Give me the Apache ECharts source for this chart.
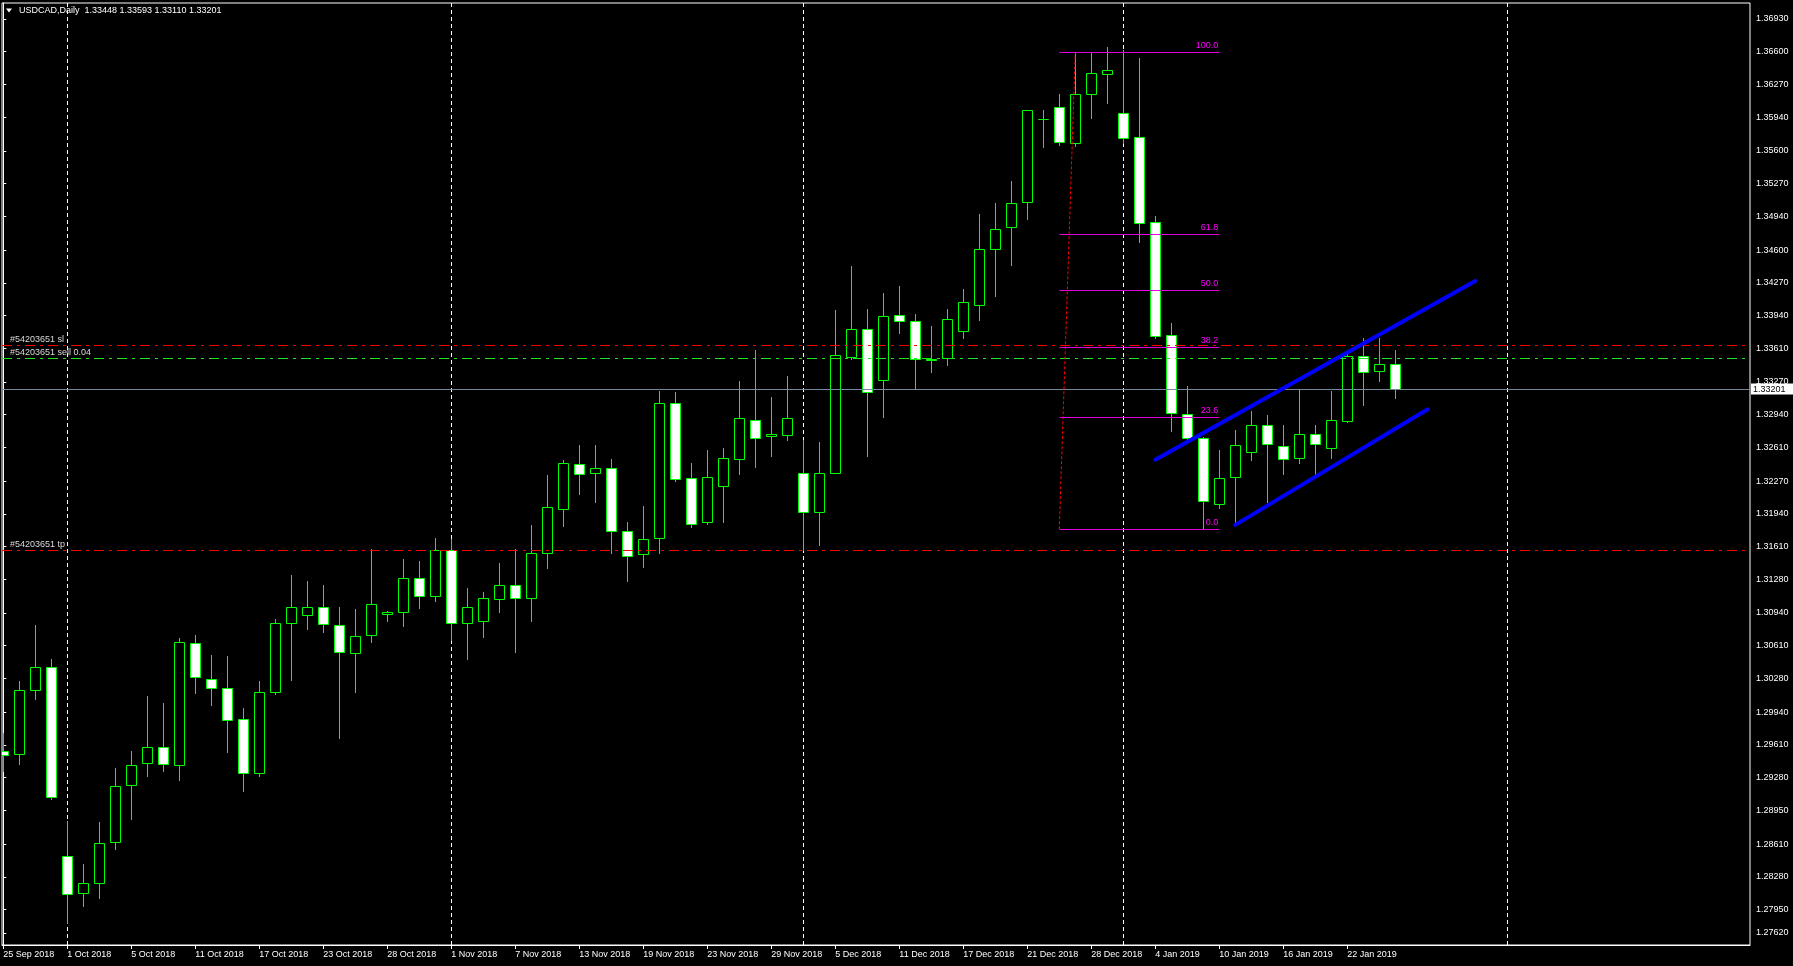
<!DOCTYPE html>
<html><head><meta charset="utf-8">
<script src="https://cdn.jsdelivr.net/npm/echarts@6/dist/echarts.min.js"></script>
<style>html,body{margin:0;padding:0;background:#000;}#c{width:1793px;height:966px;}</style>
</head><body><div id="c"></div>
<script>
const dates = ['25 Sep 2018','26 Sep 2018','27 Sep 2018','28 Sep 2018','1 Oct 2018','2 Oct 2018','3 Oct 2018','4 Oct 2018','5 Oct 2018','8 Oct 2018',
'9 Oct 2018','10 Oct 2018','11 Oct 2018','12 Oct 2018','15 Oct 2018','16 Oct 2018','17 Oct 2018','18 Oct 2018','19 Oct 2018','22 Oct 2018',
'23 Oct 2018','24 Oct 2018','25 Oct 2018','26 Oct 2018','28 Oct 2018','29 Oct 2018','30 Oct 2018','31 Oct 2018','1 Nov 2018','2 Nov 2018',
'5 Nov 2018','6 Nov 2018','7 Nov 2018','8 Nov 2018','9 Nov 2018','12 Nov 2018','13 Nov 2018','14 Nov 2018','15 Nov 2018','16 Nov 2018',
'19 Nov 2018','20 Nov 2018','21 Nov 2018','22 Nov 2018','23 Nov 2018','26 Nov 2018','27 Nov 2018','28 Nov 2018','29 Nov 2018','30 Nov 2018',
'3 Dec 2018','4 Dec 2018','5 Dec 2018','6 Dec 2018','7 Dec 2018','10 Dec 2018','11 Dec 2018','12 Dec 2018','13 Dec 2018','14 Dec 2018',
'17 Dec 2018','18 Dec 2018','19 Dec 2018','20 Dec 2018','21 Dec 2018','24 Dec 2018','26 Dec 2018','27 Dec 2018','28 Dec 2018','31 Dec 2018',
'2 Jan 2019','3 Jan 2019','4 Jan 2019','7 Jan 2019','8 Jan 2019','9 Jan 2019','10 Jan 2019','11 Jan 2019','14 Jan 2019','15 Jan 2019',
'16 Jan 2019','17 Jan 2019','18 Jan 2019','21 Jan 2019','22 Jan 2019','23 Jan 2019','24 Jan 2019','25 Jan 2019'];

const open = [
1.29546,1.29515,1.30161,1.30393,1.28487,1.28114,1.28214,1.28628,1.29203,1.29425,
1.29586,1.29404,1.30635,1.30272,1.30181,1.29868,1.29324,1.30140,1.30836,1.30917,
1.30998,1.30816,1.30534,1.30715,1.30927,1.30947,1.31290,1.31109,1.31572,1.30836,
1.30856,1.31078,1.31219,1.31088,1.31542,1.31986,1.32440,1.32349,1.32399,1.31764,
1.31532,1.31693,1.33055,1.32298,1.31855,1.32218,1.32490,1.32883,1.32722,1.32732,
1.32349,1.31956,1.32349,1.33525,1.33801,1.33287,1.33942,1.33882,1.33498,1.33509,
1.33781,1.34043,1.34608,1.34829,1.35082,1.35925,1.36040,1.35677,1.36171,1.36372,
1.35979,1.35737,1.34880,1.33740,1.32944,1.32702,1.32042,1.32315,1.32561,1.32833,
1.32621,1.32500,1.32742,1.32601,1.32873,1.33528,1.33377,1.33448];

const high = [
1.29727,1.30254,1.30819,1.30476,1.28843,1.28409,1.28833,1.29377,1.29549,1.30103,
1.30033,1.30688,1.30718,1.30517,1.30507,1.29979,1.30254,1.30877,1.31323,1.31263,
1.31222,1.30998,1.30980,1.31586,1.30960,1.31485,1.31465,1.31696,1.31686,1.31192,
1.31152,1.31444,1.31586,1.31828,1.32332,1.32483,1.32634,1.32634,1.32493,1.31858,
1.32019,1.33179,1.33169,1.32453,1.32584,1.32604,1.33280,1.33592,1.33118,1.33330,
1.32685,1.32662,1.33996,1.34439,1.34006,1.34167,1.34238,1.33955,1.33834,1.34006,
1.34207,1.34964,1.35075,1.35296,1.36015,1.36012,1.36174,1.36600,1.36594,1.36648,
1.36617,1.36537,1.34944,1.33865,1.33229,1.32718,1.32584,1.32786,1.32977,1.32937,
1.32836,1.33189,1.32836,1.33179,1.33549,1.33710,1.33710,1.33593];

const low = [
1.29350,1.29420,1.30076,1.29068,1.27817,1.27989,1.28069,1.28563,1.28866,1.29299,
1.29350,1.29259,1.30136,1.30015,1.29542,1.29148,1.29299,1.30125,1.30265,1.30782,
1.30751,1.29683,1.30147,1.30651,1.30862,1.30812,1.30994,1.31064,1.30668,1.30479,
1.30701,1.30953,1.30550,1.30862,1.31397,1.31820,1.32143,1.32062,1.31548,1.31263,
1.31407,1.31548,1.32274,1.31810,1.31835,1.31861,1.32345,1.32415,1.32526,1.32688,
1.31575,1.31629,1.32516,1.33505,1.32526,1.32920,1.33767,1.33206,1.33373,1.33441,
1.33716,1.33895,1.34137,1.34452,1.34916,1.35642,1.35662,1.35652,1.35935,1.36086,
1.35683,1.34684,1.33716,1.32778,1.32685,1.31785,1.32002,1.31845,1.32483,1.32062,
1.32345,1.32456,1.32332,1.32506,1.32865,1.33041,1.33283,1.33110];

const close = [
1.29505,1.30161,1.30393,1.29082,1.28104,1.28214,1.28618,1.29193,1.29404,1.29586,
1.29414,1.30645,1.30292,1.30181,1.29858,1.29324,1.30140,1.30836,1.30998,1.30998,
1.30826,1.30544,1.30705,1.31028,1.30947,1.31290,1.31109,1.31572,1.30836,1.30998,
1.31088,1.31219,1.31088,1.31542,1.32006,1.32450,1.32339,1.32399,1.31764,1.31512,
1.31683,1.33055,1.32288,1.31835,1.32309,1.32500,1.32903,1.32702,1.32742,1.32903,
1.31956,1.32349,1.33539,1.33801,1.33166,1.33932,1.33882,1.33498,1.33488,1.33902,
1.34073,1.34608,1.34809,1.35072,1.36009,1.35919,1.35687,1.36171,1.36382,1.36413,
1.35733,1.34870,1.33730,1.32954,1.32702,1.32066,1.32298,1.32631,1.32833,1.32641,
1.32490,1.32742,1.32641,1.32883,1.33528,1.33367,1.33448,1.33201];

const xTickBars = [0,4,8,12,16,20,24,28,32,36,40,44,48,52,56,60,64,68,72,76,80,84];
const yTickLabels = ['1.36930','1.36600','1.36270','1.35940','1.35600','1.35270','1.34940','1.34600','1.34270','1.33940',
'1.33610','1.33270','1.32940','1.32610','1.32270','1.31940','1.31610','1.31280','1.30940','1.30610',
'1.30280','1.29940','1.29610','1.29280','1.28950','1.28610','1.28280','1.27950','1.27620'];
const monthSeparatorBars = [4, 28, 50, 70, 94];

const orderLabels = ['#54203651 sl', '#54203651 sell 0.04', '#54203651 tp'];
const orderPrices = [1.33640, 1.33508, 1.31572];
const orderColors = ['#ff0000', '#1ee61e', '#ff0000'];
const bidPrice = 1.33201;

const fibLevels = [0, 23.6, 38.2, 50, 61.8, 100];
const fibLabels = ['0.0', '23.6', '38.2', '50.0', '61.8', '100.0'];
const fibLow = 1.31785, fibHigh = 1.36600;
const fibLowBar = 66, fibHighBar = 67, fibEndBar = 76;

const trendUpper = [[72, 1.32486], [92, 1.34288]];
const trendLower = [[77, 1.31829], [89, 1.32993]];

const FONT = 'Liberation Sans';
const GREEN = '#00ff00';
const X_MIN = -0.08125, X_MAX = 109.169;
const Y_MIN = 1.275922, Y_MAX = 1.370913;

const yTickPos = yTickLabels.map(parseFloat);
// MT4 pins its lowest price label just inside the bottom edge of the chart
yTickPos[yTickPos.length - 1] = Y_MIN + 12 * (Y_MAX - Y_MIN) / 942;
function yLabelFor(v) {
  let best = 0, bd = Infinity;
  yTickPos.forEach((p, k) => { const d = Math.abs(p - v); if (d < bd) { bd = d; best = k; } });
  return yTickLabels[best];
}

const chart = echarts.init(document.getElementById('c'), null, {renderer: 'canvas', width: 1793, height: 966});

function txt(x, y, text, color, align, vAlign) {
  return {type: 'text', x: x, y: y, silent: true,
    style: {text: text, fill: color, fontSize: 9, fontFamily: FONT, align: align || 'left', verticalAlign: vAlign || 'middle'}};
}

const candleData = dates.map((d, i) => [i, open[i], close[i], low[i], high[i]]);

const option = {
  backgroundColor: '#000',
  animation: false,
  grid: {left: 2, top: 3, width: 1748, height: 942, show: true, borderColor: '#ffffff', borderWidth: 1,
         backgroundColor: '#000', containLabel: false, outerBoundsMode: 'none'},
  xAxis: {
    type: 'value', min: X_MIN, max: X_MAX,
    axisLine: {show: true, lineStyle: {color: '#ffffff', width: 1}},
    splitLine: {show: false},
    axisTick: {show: true, customValues: xTickBars, length: 4, lineStyle: {color: '#ffffff'}},
    axisLabel: {show: true, customValues: xTickBars, formatter: v => dates[Math.round(v)] || '',
      align: 'left', color: '#ffffff', fontFamily: FONT, fontSize: 9, margin: 5}
  },
  yAxis: {
    type: 'value', position: 'right', min: Y_MIN, max: Y_MAX, scale: true,
    axisLine: {show: true, lineStyle: {color: '#ffffff', width: 1}},
    splitLine: {show: false},
    axisTick: {show: true, customValues: yTickPos, length: 3, lineStyle: {color: '#ffffff'}},
    axisLabel: {show: true, customValues: yTickPos, formatter: v => yLabelFor(v),
      color: '#ffffff', fontFamily: FONT, fontSize: 9, margin: 6, align: 'left'}
  },
  series: [
    { // monthly period separators
      type: 'custom', z: 1, silent: true,
      data: monthSeparatorBars.map(b => [b, Y_MIN]),
      renderItem: function (params, api) {
        const cs = params.coordSys;
        const x = Math.floor(api.coord([api.value(0), Y_MIN])[0]) + 0.5;
        return {type: 'line', shape: {x1: x, y1: cs.y, x2: x, y2: cs.y + cs.height},
          style: {stroke: '#ffffff', lineWidth: 1, lineDash: [4, 3]}};
      }
    },
    { // candles
      type: 'custom', z: 2, silent: true, clip: true,
      data: candleData,
      encode: {x: 0, y: [1, 2, 3, 4]},
      renderItem: function (params, api) {
        const i = api.value(0);
        const o = api.coord([i, api.value(1)]), c = api.coord([i, api.value(2)]);
        const l = api.coord([i, api.value(3)]), h = api.coord([i, api.value(4)]);
        const x = Math.floor(o[0]) + 0.5;
        const top = Math.round(Math.min(o[1], c[1])) + 0.5;
        const bot = Math.round(Math.max(o[1], c[1])) + 0.5;
        const bull = api.value(2) > api.value(1);
        return {type: 'group', children: [
          {type: 'line', shape: {x1: x, y1: Math.round(h[1]), x2: x, y2: Math.round(l[1]) + 1},
            style: {stroke: GREEN, lineWidth: 1}},
          {type: 'rect', shape: {x: x - 5, y: top, width: 10, height: Math.max(bot - top, 0)},
            style: {fill: bull ? '#000000' : '#ffffff', stroke: GREEN, lineWidth: 1}}
        ]};
      }
    },
    { // order lines (sl / sell / tp)
      type: 'custom', z: 3, silent: true,
      data: orderPrices.map(p => [0, p]),
      renderItem: function (params, api) {
        const cs = params.coordSys;
        const k = params.dataIndex;
        const y = Math.round(api.coord([0, api.value(1)])[1]) + 0.5;
        return {type: 'group', children: [
          {type: 'line', shape: {x1: cs.x, y1: y, x2: cs.x + cs.width, y2: y},
            style: {stroke: orderColors[k], lineWidth: 1, lineDash: [10, 5, 3, 5]}},
          txt(cs.x + 8, y - 5.5, orderLabels[k], '#d8d8d8')
        ]};
      }
    },
    { // bid line and price box
      type: 'custom', z: 3, silent: true, clip: false,
      data: [[0, bidPrice]],
      renderItem: function (params, api) {
        const cs = params.coordSys;
        const y = Math.round(api.coord([0, api.value(1)])[1]) + 0.5;
        return {type: 'group', children: [
          {type: 'line', shape: {x1: cs.x, y1: y, x2: cs.x + cs.width, y2: y},
            style: {stroke: '#778899', lineWidth: 1}},
          {type: 'rect', shape: {x: cs.x + cs.width + 1, y: y - 6, width: 43, height: 11},
            style: {fill: '#ffffff'}},
          txt(cs.x + cs.width + 3, y, api.value(1).toFixed(5), '#000000')
        ]};
      }
    },
    { // Fibonacci retracement
      type: 'custom', z: 4, silent: true,
      data: fibLevels.map(r => [fibLowBar, fibLow + (fibHigh - fibLow) * r / 100]),
      renderItem: function (params, api) {
        const k = params.dataIndex;
        const p1 = api.coord([fibLowBar, api.value(1)]);
        const p2 = api.coord([fibEndBar, api.value(1)]);
        const y = Math.round(p1[1]) + 0.5;
        const children = [
          {type: 'line', shape: {x1: p1[0], y1: y, x2: p2[0], y2: y},
            style: {stroke: '#dd00dd', lineWidth: 1}},
          txt(p2[0] - 1, y - 2, fibLabels[k], '#ff00ff', 'right', 'bottom')
        ];
        if (k === 0) {
          const a = api.coord([fibLowBar, fibLow]), b = api.coord([fibHighBar, fibHigh]);
          children.unshift({type: 'line', shape: {x1: a[0], y1: a[1], x2: b[0], y2: b[1]},
            style: {stroke: '#ff0000', lineWidth: 1, lineDash: [3, 2]}});
        }
        return {type: 'group', children: children};
      }
    },
    { // trend channel
      type: 'custom', z: 5, silent: true,
      data: [trendUpper, trendLower].map(t => [t[0][0], t[0][1], t[1][0], t[1][1]]),
      renderItem: function (params, api) {
        const a = api.coord([api.value(0), api.value(1)]);
        const b = api.coord([api.value(2), api.value(3)]);
        return {type: 'line', shape: {x1: a[0], y1: a[1], x2: b[0], y2: b[1]},
          style: {stroke: '#0000ff', lineWidth: 4, lineCap: 'round'}};
      }
    }
  ],
  graphic: [
    {type: 'polygon', shape: {points: [[6, 8.5], [12, 8.5], [9, 12.5]]}, style: {fill: '#ffffff'}, silent: true},
    {type: 'text', left: 19, top: 6, silent: true,
      style: {text: 'USDCAD,Daily  ' + [open[87], high[87], low[87], close[87]].map(v => v.toFixed(5)).join(' '),
        fill: '#ffffff', fontSize: 9, fontFamily: FONT}}
  ]
};
chart.setOption(option);
</script>
</body></html>
